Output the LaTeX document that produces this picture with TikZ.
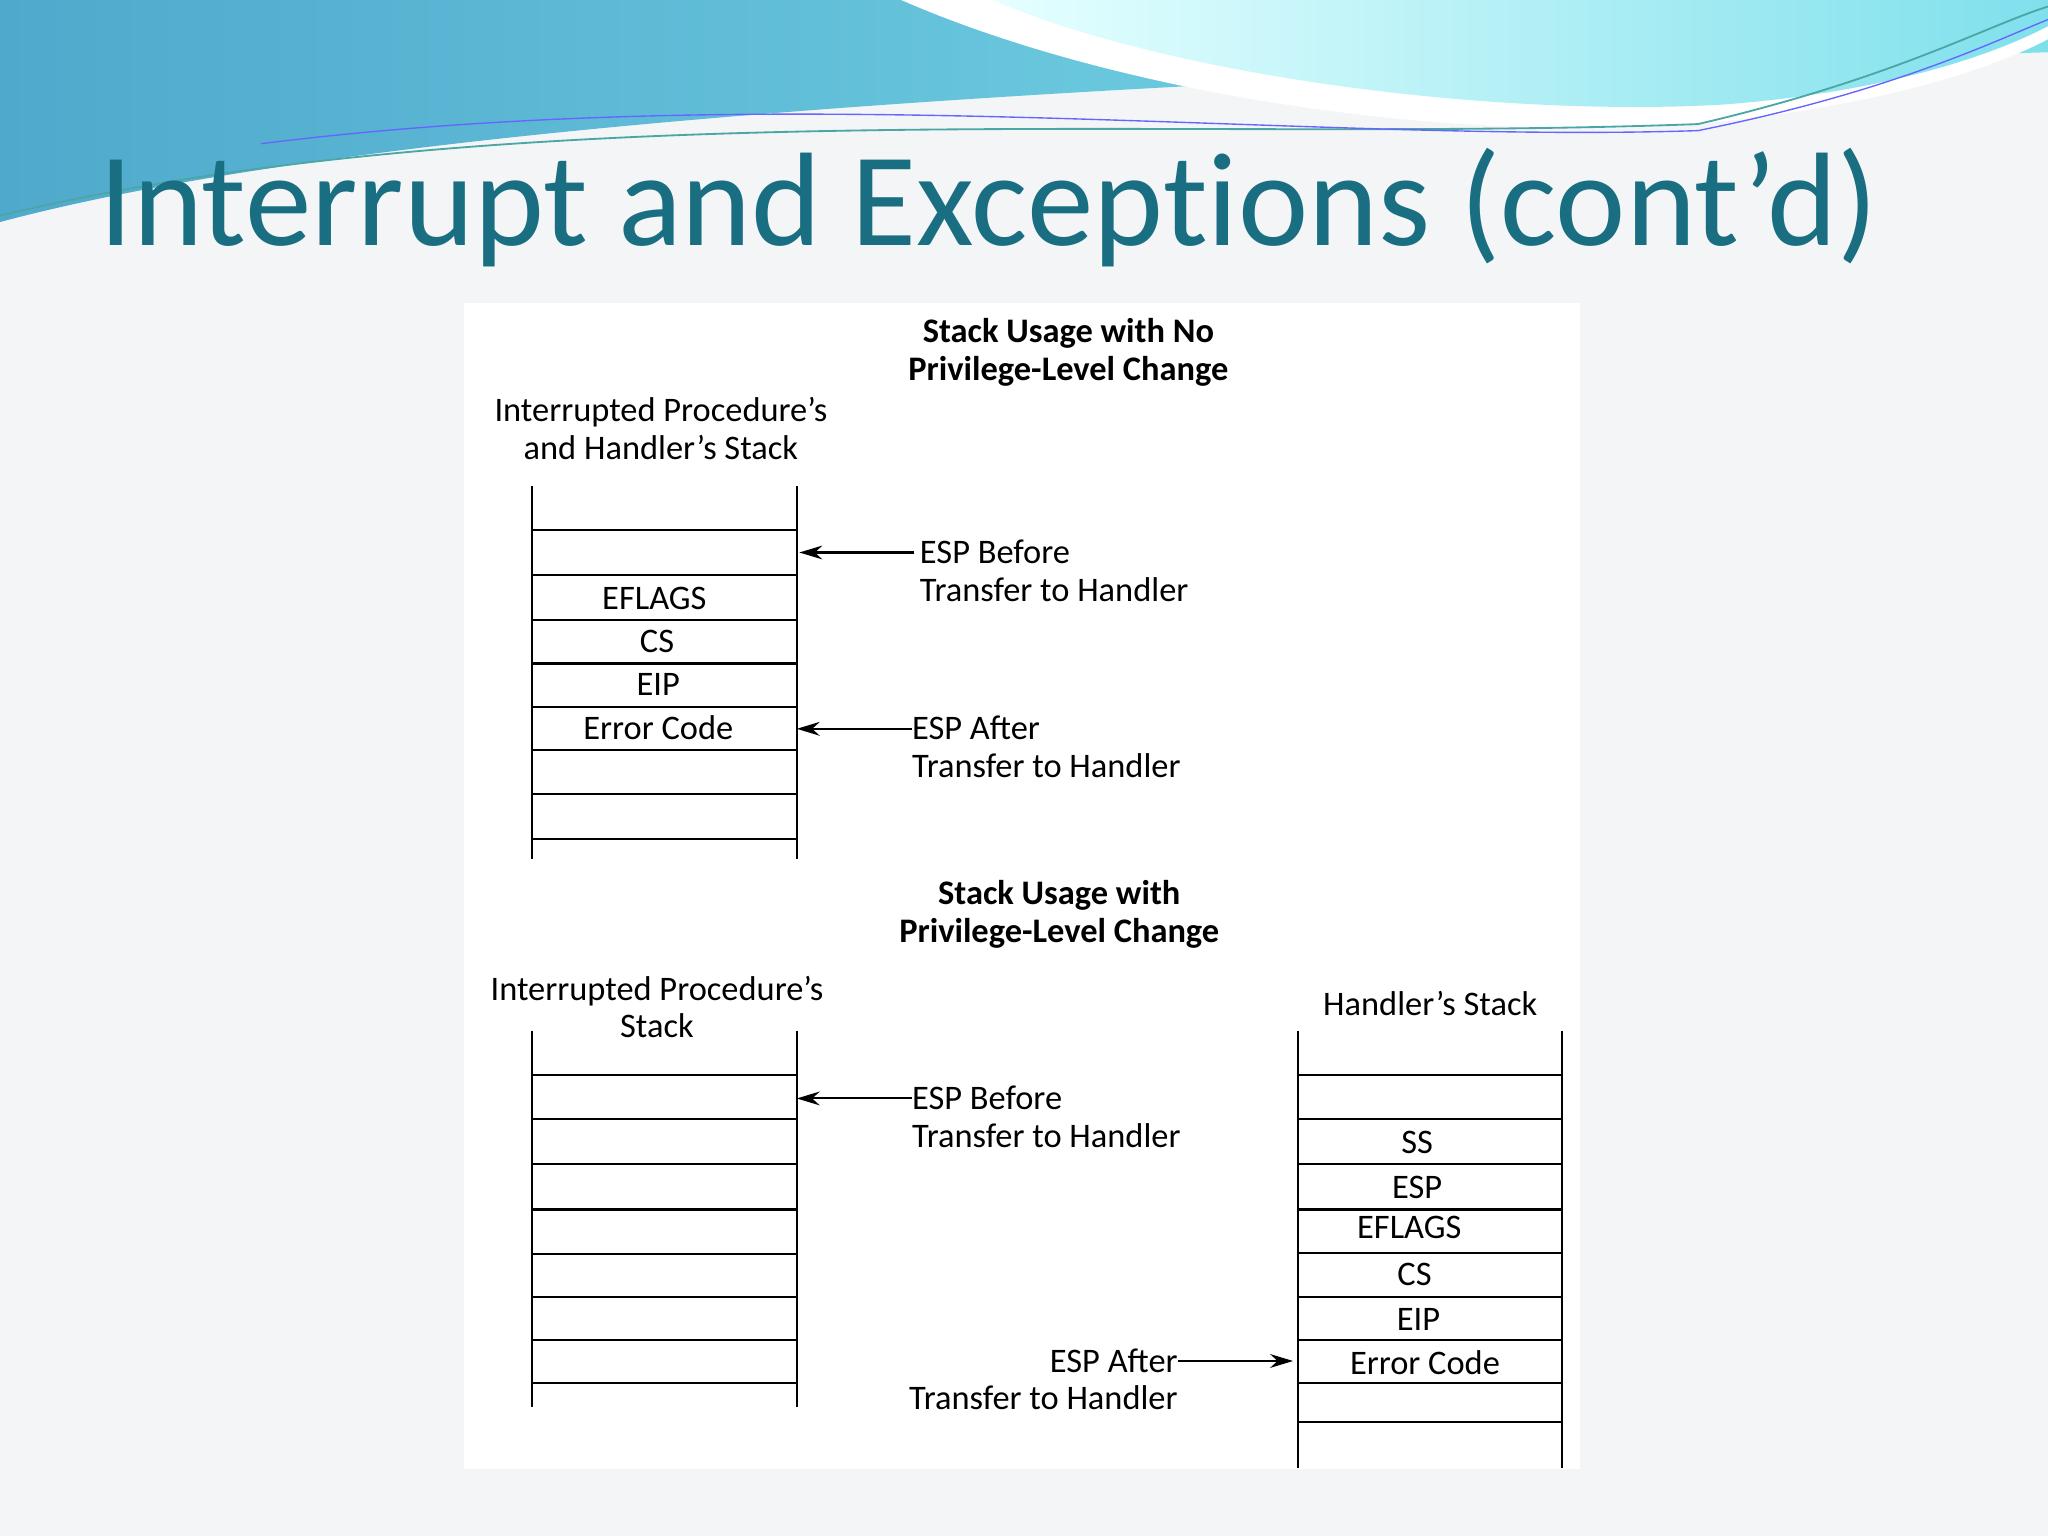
\documentclass[tikz,border=0pt]{standalone}
\usepackage{fontspec}
\setmainfont{Carlito}
\newfontfamily\titlefont[Ligatures=NoCommon]{Carlito}
\usetikzlibrary{arrows.meta}
\definecolor{titlec}{HTML}{1A6E82}
\definecolor{bgc}{HTML}{F3F5F7}
\definecolor{wa}{HTML}{4FA9CC}
\definecolor{wb}{HTML}{7FE0EC}
\begin{document}
\begin{tikzpicture}[x=0.02cm,y=-0.02cm,
  lbl/.style={font=\fontsize{15}{16.5}\selectfont,inner sep=0pt,align=center},
  hdr/.style={font=\fontsize{15}{16.5}\selectfont\bfseries,inner sep=0pt,align=center},
  stk/.style={line width=0.9pt},
  arr/.style={line width=0.9pt,-{Stealth[length=10pt,width=6pt]}}]
\fill[bgc] (0,0) rectangle (1568,1176);
\useasboundingbox (0,0) rectangle (1568,1176);
% wave
\shade[left color=wa,right color=wb] (0,0) -- (0,170) .. controls (300,90) and (900,60) .. (1568,40) -- (1568,0) -- cycle;
\fill[white] (690,0) .. controls (850,70) and (1100,110) .. (1300,95) .. controls (1450,80) and (1530,50) .. (1568,30) -- (1568,0) -- cycle;
\shade[left color=cyan!10,right color=wb] (760,0) .. controls (900,60) and (1150,90) .. (1320,80) .. controls (1450,70) and (1530,40) .. (1568,20) -- (1568,0) -- cycle;
\draw[teal!70,line width=0.8pt] (0,165) .. controls (400,70) and (900,110) .. (1300,95) .. controls (1450,60) and (1520,20) .. (1568,5);
\draw[blue!60,line width=0.6pt] (200,110) .. controls (600,60) and (1000,110) .. (1300,100) .. controls (1450,70) and (1530,30) .. (1568,15);
\node[anchor=base west,inner sep=0pt,text=titlec,font=\titlefont\fontsize{58}{64}\selectfont] (title) at (76,188) {Interrupt and Exceptions (cont’d)};
% diagram panel
\fill[white] (355,232) rectangle (1210,1125);
\node[hdr] (h1) at (818,270) {Stack Usage with No\\Privilege-Level Change};
\node[lbl] (s1) at (506,328) {Interrupted Procedure’s\\and Handler’s Stack};
% stack 1
\draw[stk] (407,372) -- (407,658) (610,372) -- (610,658);
\foreach \y in {406,440,475,508,541,574,608,642} \draw[stk] (407,\y) -- (610,\y);
\node[lbl] (a1) at (501,458) {EFLAGS};
\node[lbl] (a2) at (503,491) {CS};
\node[lbl] (a3) at (504,524) {EIP};
\node[lbl] (a4) at (504,557) {Error Code};
\coordinate (p1) at (612,423); \coordinate (p2) at (610,558);
\node[lbl,anchor=west,align=left] (t1) at (704,437) {ESP Before\\Transfer to Handler};
\node[lbl,anchor=west,align=left] (t2) at (698,572) {ESP After\\Transfer to Handler};
\draw[arr] (t1.west|-p1) ++(-4,0) -- (p1);
\draw[arr] (t2.west|-p2) -- (p2);
% second
\node[hdr] (h2) at (811,700) {Stack Usage with\\Privilege-Level Change};
\node[lbl] (s2) at (503,771) {Interrupted Procedure’s\\Stack};
\node[lbl] (s3) at (1095,768) {Handler’s Stack};
\draw[stk] (407,789) -- (407,1077) (610,789) -- (610,1077);
\foreach \y in {823,857,891,926,960,993,1026,1059} \draw[stk] (407,\y) -- (610,\y);
\coordinate (p3) at (610,841);
\node[lbl,anchor=west,align=left] (t3) at (698,855) {ESP Before\\Transfer to Handler};
\draw[arr] (t3.west|-p3) -- (p3);
\draw[stk] (994,789) -- (994,1124) (1196,789) -- (1196,1124);
\foreach \y in {823,857,891,926,959,993,1026,1059,1089} \draw[stk] (994,\y) -- (1196,\y);
\node[lbl] (b1) at (1085,875) {SS};
\node[lbl] (b2) at (1085,909) {ESP};
\node[lbl] (b3) at (1079,940) {EFLAGS};
\node[lbl] (b4) at (1083,976) {CS};
\node[lbl] (b5) at (1086,1010) {EIP};
\node[lbl] (b6) at (1091,1043) {Error Code};
\coordinate (p4) at (990,1042);
\node[lbl,anchor=east,align=right] (t4) at (902,1056) {ESP After\\Transfer to Handler};
\draw[arr] (t4.east|-p4) -- (p4);
\end{tikzpicture}
\end{document}
